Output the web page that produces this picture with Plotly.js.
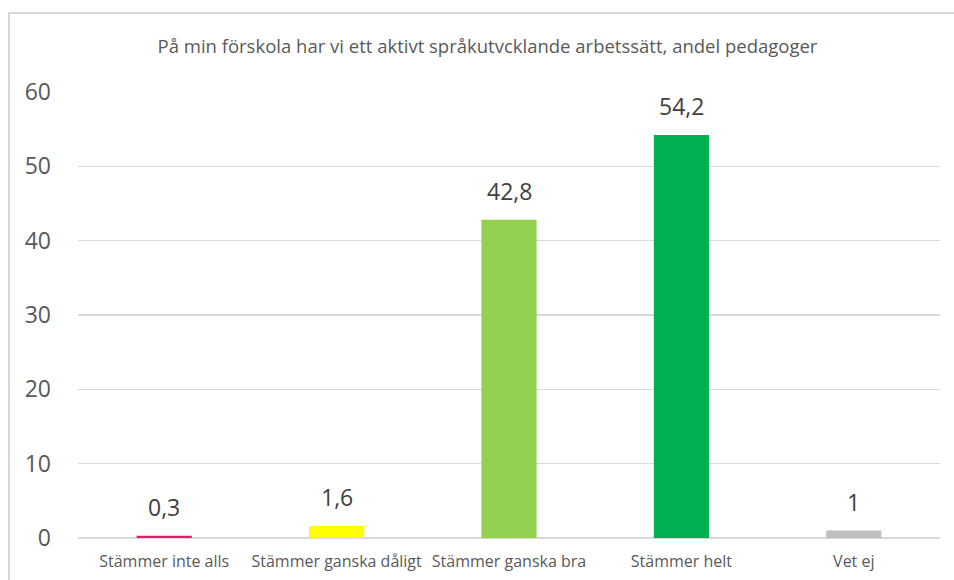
<!DOCTYPE html>
<html><head><meta charset="utf-8">
<script src="https://cdn.plot.ly/plotly-3.0.1.min.js"></script>
<style>
html,body{margin:0;padding:0;background:#fff;overflow:hidden;}
#frame{position:absolute;left:8px;top:12px;width:1000px;height:700px;border:2px solid #d9d9d9;box-sizing:border-box;}
#chart{position:absolute;left:0;top:0;width:954px;height:580px;}
</style></head>
<body>
<div id="frame"></div>
<div id="chart"></div>
<script>
const categories = ["Stämmer inte alls", "Stämmer ganska dåligt", "Stämmer ganska bra", "Stämmer helt", "Vet ej"];
const values = [0.3, 1.6, 42.8, 54.2, 1];
const colors = ["#E6186F", "#FFFF00", "#92D050", "#00B050", "#BFBFBF"];
const titleText = "På min förskola har vi ett aktivt språkutvcklande arbetssätt, andel pedagoger";

const labels = values.map(v => String(v).replace(".", ","));
const FONT = "Open Sans";

Plotly.newPlot("chart", [{
  type: "bar",
  x: categories,
  y: values,
  marker: {color: colors},
  width: 0.32,
  hoverinfo: "none"
}], {
  width: 954, height: 580,
  paper_bgcolor: "rgba(0,0,0,0)",
  plot_bgcolor: "rgba(0,0,0,0)",
  margin: {l: 78, r: 14, t: 92, b: 42},
  font: {family: FONT, color: "#595959"},
  title: {text: titleText, font: {family: FONT, size: 18.5, color: "#595959"}, x: 0.511, xanchor: "center", y: 1 - 47/580, yanchor: "middle"},
  xaxis: {tickfont: {size: 16, color: "#595959"}, showgrid: false, showline: false, ticks: "", fixedrange: true, ticklabelstandoff: 12},
  yaxis: {range: [0, 60], dtick: 10, tickfont: {size: 23, color: "#595959"}, gridcolor: "#d9d9d9", gridwidth: 1.3,
          zeroline: true, zerolinecolor: "#d9d9d9", zerolinewidth: 1.5, showline: false, ticks: "", ticklabelstandoff: 26},
  annotations: categories.map((c, i) => ({
    x: c, y: values[i], xref: "x", yref: "y", text: labels[i], showarrow: false,
    yanchor: "bottom", yshift: 11,
    font: {family: FONT, size: 23, color: "#404040"}
  })),
  showlegend: false
}, {staticPlot: true});
</script>
</body></html>
